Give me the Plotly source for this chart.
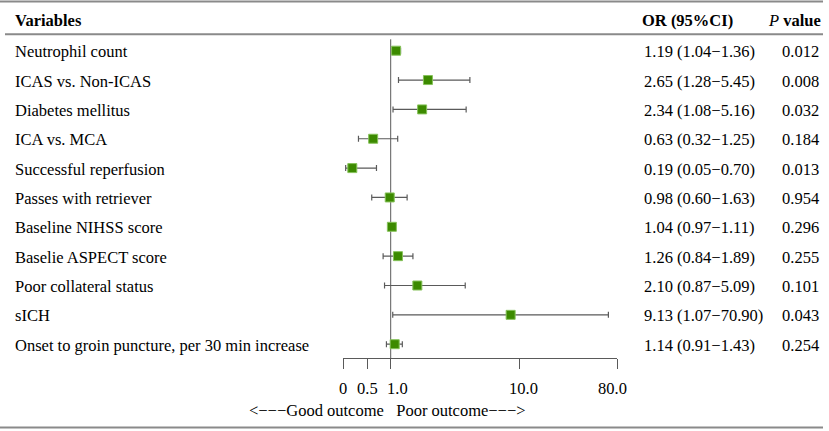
import numpy as np
import plotly.graph_objects as go

# forest plot data
variables = [
    "Neutrophil count",
    "ICAS vs. Non-ICAS",
    "Diabetes mellitus",
    "ICA vs. MCA",
    "Successful reperfusion",
    "Passes with retriever",
    "Baseline NIHSS score",
    "Baselie ASPECT score",
    "Poor collateral status",
    "sICH",
    "Onset to groin puncture, per 30 min increase",
]
odds_ratio = [1.19, 2.65, 2.34, 0.63, 0.19, 0.98, 1.04, 1.26, 2.10, 9.13, 1.14]
ci_low = [1.04, 1.28, 1.08, 0.32, 0.05, 0.60, 0.97, 0.84, 0.87, 1.07, 0.91]
ci_high = [1.36, 5.45, 5.16, 1.25, 0.70, 1.63, 1.11, 1.89, 5.09, 70.90, 1.43]
p_values = ["0.012", "0.008", "0.032", "0.184", "0.013", "0.954",
            "0.296", "0.255", "0.101", "0.043", "0.254"]

tick_vals = [0, 0.5, 1, 10, 80]
tick_labels = ["0", "0.5", "1.0", "10.0", "80.0"]

W, H = 829, 431
FONT = "Liberation Serif, Times New Roman, serif"
FS = 16.5
RULE = "#8a8a8a"
INK = "#5a5a5a"

# custom axis: linear below 1, compressed (sqrt) above 1
ANCHOR_POS = [0, 0.5, 1, 3.707, 5.781]
# tick labels in the original sit a little off their ticks
LABEL_SHIFT = [0, 0, 7, 4, -5]


def to_axis(v):
    v = np.asarray(v, dtype=float)
    hi = np.interp(np.sqrt(v), np.sqrt(tick_vals[2:]), ANCHOR_POS[2:])
    return np.where(v <= 1, v, hi)


x_or = to_axis(odds_ratio)
x_lo = to_axis(ci_low)
x_hi = to_axis(ci_high)
rows = list(range(len(variables)))

# pixel layout helpers
row0, row_step = 50.7, 29.35
axis_px = 358
x_left_px, x_right_px = 343.3, 617.3


def py(px):
    return 1 - px / H


def pxx(px):
    return px / W


fig = go.Figure()

fig.add_trace(go.Scatter(
    x=x_or, y=rows,
    mode="markers",
    marker=dict(symbol="square", size=9, color="#3c8a00",
                line=dict(color="#86c25a", width=1)),
    error_x=dict(type="data", symmetric=False,
                 array=x_hi - x_or, arrayminus=x_or - x_lo,
                 color=INK, thickness=1.2, width=3),
    showlegend=False, hoverinfo="skip",
))

ann = []
for i, (v, o, l, h, p) in enumerate(zip(variables, odds_ratio, ci_low, ci_high, p_values)):
    ann.append(dict(x=pxx(13), y=i, xref="paper", yref="y", text=v,
                    xanchor="left", yanchor="middle", showarrow=False, yshift=-1))
    ann.append(dict(x=pxx(642), y=i, xref="paper", yref="y",
                    text=f"{o:.2f} ({l:.2f}\u2212{h:.2f})",
                    xanchor="left", yanchor="middle", showarrow=False, yshift=-1))
    ann.append(dict(x=pxx(800), y=i, xref="paper", yref="y", text=p,
                    xanchor="center", yanchor="middle", showarrow=False, yshift=-1))

# tick labels
for t, lab, s in zip(to_axis(tick_vals), tick_labels, LABEL_SHIFT):
    ann.append(dict(x=float(t), y=py(388), xref="x", yref="paper", text=lab,
                    xanchor="center", yanchor="middle", showarrow=False, xshift=s))

# header
ann.append(dict(x=pxx(13), y=py(20), xref="paper", yref="paper", text="<b>Variables</b>",
                xanchor="left", yanchor="middle", showarrow=False))
ann.append(dict(x=pxx(640), y=py(20), xref="paper", yref="paper", text="<b>OR (95%CI)</b>",
                xanchor="left", yanchor="middle", showarrow=False))
ann.append(dict(x=pxx(823), y=py(20), xref="paper", yref="paper",
                text="<i>P</i> <b>value</b>",
                xanchor="right", yanchor="middle", showarrow=False))
# direction note
ann.append(dict(x=pxx(387), y=py(410), xref="paper", yref="paper",
                text="<\u2212\u2212\u2212Good outcome   Poor outcome\u2212\u2212\u2212>",
                xanchor="center", yanchor="middle", showarrow=False))

shapes = [
    dict(type="line", xref="paper", yref="paper", x0=0, x1=pxx(823),
         y0=py(1.5), y1=py(1.5), line=dict(color=RULE, width=2)),
    dict(type="line", xref="paper", yref="paper", x0=pxx(5), x1=pxx(823),
         y0=py(34.3), y1=py(34.3), line=dict(color=RULE, width=2)),
    dict(type="line", xref="paper", yref="paper", x0=0, x1=pxx(823),
         y0=py(427.5), y1=py(427.5), line=dict(color=RULE, width=2)),
    # reference line at OR = 1
    dict(type="line", xref="x", yref="paper", x0=float(to_axis(1)), x1=float(to_axis(1)),
         y0=py(axis_px), y1=py(39.3), line=dict(color=INK, width=1), layer="below"),
]

fig.update_layout(
    width=W, height=H,
    margin=dict(l=0, r=0, t=0, b=0),
    paper_bgcolor="white", plot_bgcolor="white",
    font=dict(family=FONT, size=FS, color="black"),
    annotations=ann, shapes=shapes,
    xaxis=dict(
        domain=[pxx(x_left_px), pxx(x_right_px)],
        range=[0, ANCHOR_POS[-1]],
        tickvals=list(to_axis(tick_vals)), ticktext=[""] * len(tick_vals),
        ticks="outside", ticklen=10, tickwidth=1, tickcolor=INK,
        showline=True, linecolor=INK, linewidth=1,
        showgrid=False, zeroline=False, fixedrange=True,
    ),
    yaxis=dict(
        domain=[py(axis_px), 1],
        range=[(axis_px - row0) / row_step, -row0 / row_step],
        visible=False, showgrid=False, zeroline=False, fixedrange=True,
    ),
)

# page body has a default 8px margin; drop it so the figure sits at 0,0
fig.write_html("out.html", config={"displayModeBar": False},
               post_script="document.body.style.margin='0';"
                           "document.body.style.overflow='hidden';")
